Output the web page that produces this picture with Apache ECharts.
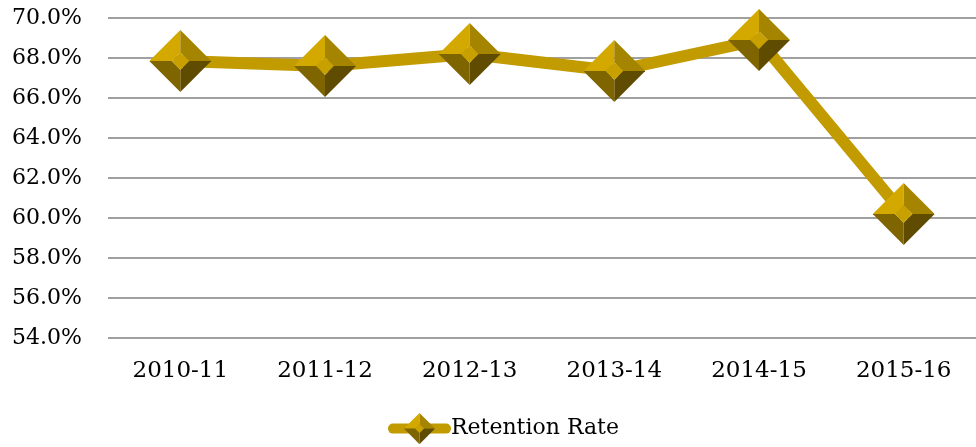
<!DOCTYPE html>
<html>
<head>
<meta charset="utf-8">
<script src="https://cdn.jsdelivr.net/npm/echarts@6/dist/echarts.min.js"></script>
<style>html,body{margin:0;padding:0;background:#fff;}#c{width:976px;height:447px;}</style>
</head>
<body>
<div id="c"></div>
<script>
const categories = ['2010-11', '2011-12', '2012-13', '2013-14', '2014-15', '2015-16'];
const retentionRate = [67.85, 67.6, 68.2, 67.35, 68.9, 60.2];
const seriesName = 'Retention Rate';
const yMin = 54, yMax = 70, yStep = 2;

const svg = '<svg xmlns="http://www.w3.org/2000/svg" width="100" height="100" viewBox="0 0 100 100">' +
  '<polygon points="0,50 50,0 50,36 36,50" fill="#D3A900"/>' +
  '<polygon points="50,0 100,50 64,50 50,36" fill="#A58400"/>' +
  '<polygon points="100,50 50,100 50,64 64,50" fill="#5F4C00"/>' +
  '<polygon points="50,100 0,50 36,50 50,64" fill="#7E6500"/>' +
  '<polygon points="50,36 64,50 50,64 36,50" fill="#C8A000"/>' +
  '</svg>';
const markerSymbol = 'image://data:image/svg+xml;charset=utf-8,' + encodeURIComponent(svg);

const font = 'DejaVu Serif';
const chart = echarts.init(document.getElementById('c'));
chart.setOption({
  animation: false,
  grid: { left: 108, right: -4, top: 18, bottom: 109 },
  legend: {
    data: [seriesName],
    left: 383, top: 408,
    itemWidth: 53, itemHeight: 39,
    itemGap: 5,
    lineStyle: { width: 10, cap: 'round', color: '#C29B00' },
    textStyle: { fontFamily: font, fontSize: 22, color: '#000' }
  },
  xAxis: {
    type: 'category',
    data: categories,
    boundaryGap: true,
    axisLine: { show: false },
    axisTick: { show: false },
    axisLabel: { fontFamily: font, fontSize: 23, color: '#000', margin: 22 }
  },
  yAxis: {
    type: 'value',
    min: yMin, max: yMax, interval: yStep,
    axisLine: { show: false },
    axisTick: { show: false },
    axisLabel: { fontFamily: font, fontSize: 22, color: '#000', margin: 26,
      formatter: v => v.toFixed(1) + '%' },
    splitLine: { lineStyle: { color: '#a0a0a0', width: 2 } }
  },
  series: [{
    name: seriesName,
    type: 'line',
    data: retentionRate,
    symbol: markerSymbol,
    symbolSize: 62,
    lineStyle: { color: '#C29B00', width: 12, cap: 'round' },
    itemStyle: { color: '#C29B00' }
  }]
});
</script>
</body>
</html>
